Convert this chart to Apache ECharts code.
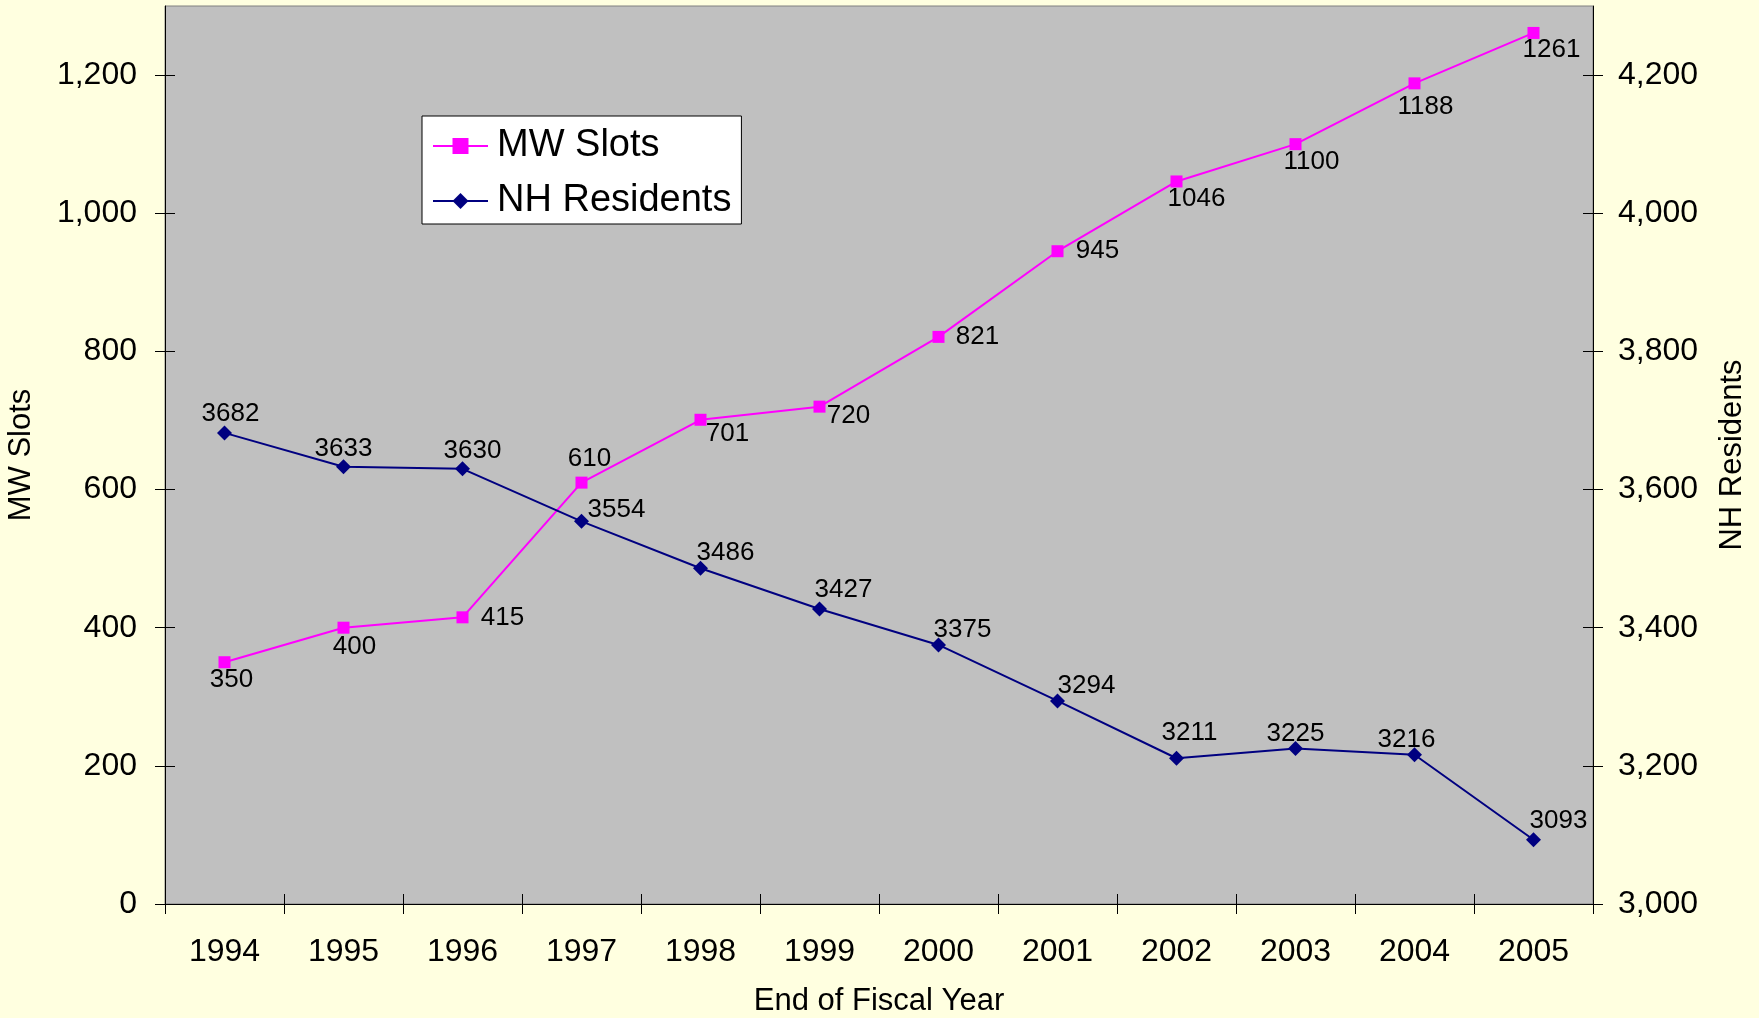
<!DOCTYPE html>
<html>
<head>
<meta charset="utf-8">
<title>MW Slots and NH Residents</title>
<script src="https://cdn.jsdelivr.net/npm/echarts@6/dist/echarts.min.js"></script>
<style>
  html, body { margin: 0; padding: 0; background: #FFFFE0; }
  #chart { width: 1759px; height: 1018px; }
</style>
</head>
<body>
<div id="chart"></div>
<script>
// Fiscal years (x axis categories)
const years = ['1994', '1995', '1996', '1997', '1998', '1999', '2000', '2001', '2002', '2003', '2004', '2005'];

// Medicaid waiver slots, left axis
const mwSlots = [350, 400, 415, 610, 701, 720, 821, 945, 1046, 1100, 1188, 1261];

// Nursing home residents, right axis
const nhResidents = [3682, 3633, 3630, 3554, 3486, 3427, 3375, 3294, 3211, 3225, 3216, 3093];

// Axis ranges and tick values
const leftMin = 0, leftMax = 1300;
const rightMin = 3000, rightMax = 4300;
const leftTicks = [0, 200, 400, 600, 800, 1000, 1200];
const rightTicks = [3000, 3200, 3400, 3600, 3800, 4000, 4200];

// Per-point label placement (pixel shift from the marker centre)
const mwLabelShift = [[7, 18], [11, 19], [40, 0], [8, -24], [27, 14], [29, 9], [39, 0], [40, 0], [20, 17], [16, 18], [11, 23], [18, 17]];
const nhLabelShift = [[6, -19], [0, -18], [10, -18], [35, -11], [25, -15], [24, -19], [24, -15], [29, -15], [13, -25], [0, -15], [-8, -15], [25, -19]];

const FONT = "'Liberation Sans', Arial, sans-serif";
const fmt = v => Number(v).toLocaleString('en-US');

function withLabels(values, shifts) {
  return values.map((v, i) => ({
    value: v,
    label: { offset: shifts[i] }
  }));
}

const chart = echarts.init(document.getElementById('chart'), null, { renderer: 'canvas' });

const tickStyle = { color: '#000', width: 1 };

function valueAxis(pos, min, max, extra) {
  return Object.assign({
    type: 'value',
    position: pos,
    min: min, max: max,
    splitLine: { show: false }
  }, extra);
}

chart.setOption({
  backgroundColor: '#FFFFE0',
  textStyle: { fontFamily: FONT, color: '#000' },
  animation: false,
  grid: {
    left: 165, right: 166, top: 6, bottom: 114,
    containLabel: false,
    outerBoundsMode: 'none',
    show: true,
    backgroundColor: '#C0C0C0',
    borderColor: '#808080',
    borderWidth: 1
  },
  legend: {
    orient: 'vertical',
    left: 422, top: 116,
    padding: [10, 10, 3, 10],
    backgroundColor: '#FFFFFF',
    borderColor: '#000',
    borderWidth: 1,
    itemWidth: 55,
    itemHeight: 20,
    itemGap: 15,
    textStyle: { fontFamily: FONT, fontSize: 38, color: '#000', lineHeight: 40, padding: [0, 0, 0, 4] },
    data: ['MW Slots', 'NH Residents']
  },
  xAxis: [
    {
      type: 'category',
      data: years,
      boundaryGap: true,
      name: 'End of Fiscal Year',
      nameLocation: 'middle',
      nameGap: 82,
      nameTextStyle: { fontFamily: FONT, fontSize: 31, color: '#000' },
      axisLine: { lineStyle: { color: '#000', width: 1 } },
      axisTick: { show: true, inside: false, length: 10, lineStyle: tickStyle },
      axisLabel: { fontFamily: FONT, fontSize: 32, color: '#000', margin: 32 },
      splitLine: { show: false }
    },
    {
      type: 'category',
      data: years,
      position: 'bottom',
      boundaryGap: true,
      axisLine: { show: false },
      axisTick: { show: true, inside: true, length: 10, lineStyle: tickStyle },
      axisLabel: { show: false },
      splitLine: { show: false }
    }
  ],
  yAxis: [
    valueAxis('left', leftMin, leftMax, {
      name: 'MW Slots',
      nameLocation: 'middle',
      nameGap: 128,
      nameRotate: 90,
      nameTextStyle: { fontFamily: FONT, fontSize: 31, color: '#000' },
      axisLine: { show: true, lineStyle: { color: '#000', width: 1 } },
      axisTick: { show: true, inside: false, length: 10, lineStyle: tickStyle, customValues: leftTicks },
      axisLabel: { fontFamily: FONT, fontSize: 32, color: '#000', margin: 28, customValues: leftTicks, formatter: fmt }
    }),
    valueAxis('right', rightMin, rightMax, {
      name: 'NH Residents',
      nameLocation: 'middle',
      nameGap: 124,
      nameRotate: 90,
      nameTextStyle: { fontFamily: FONT, fontSize: 31, color: '#000' },
      axisLine: { show: true, lineStyle: { color: '#000', width: 1 } },
      axisTick: { show: true, inside: false, length: 10, lineStyle: tickStyle, customValues: rightTicks },
      axisLabel: { fontFamily: FONT, fontSize: 32, color: '#000', margin: 25, customValues: rightTicks, formatter: fmt }
    }),
    valueAxis('left', leftMin, leftMax, {
      axisLine: { show: false },
      axisTick: { show: true, inside: true, length: 10, lineStyle: tickStyle, customValues: leftTicks },
      axisLabel: { show: false, customValues: leftTicks }
    }),
    valueAxis('right', rightMin, rightMax, {
      axisLine: { show: false },
      axisTick: { show: true, inside: true, length: 10, lineStyle: tickStyle, customValues: rightTicks },
      axisLabel: { show: false, customValues: rightTicks }
    })
  ],
  series: [
    {
      name: 'MW Slots',
      type: 'line',
      xAxisIndex: 0,
      yAxisIndex: 0,
      data: withLabels(mwSlots, mwLabelShift),
      symbol: 'rect',
      symbolSize: 12,
      showAllSymbol: true,
      lineStyle: { color: '#FF00FF', width: 2 },
      itemStyle: { color: '#FF00FF' },
      label: { show: true, position: 'inside', fontFamily: FONT, fontSize: 26, color: '#000' },
      z: 3
    },
    {
      name: 'NH Residents',
      type: 'line',
      xAxisIndex: 0,
      yAxisIndex: 1,
      data: withLabels(nhResidents, nhLabelShift),
      symbol: 'diamond',
      symbolSize: 15,
      showAllSymbol: true,
      lineStyle: { color: '#000080', width: 2 },
      itemStyle: { color: '#000080' },
      label: { show: true, position: 'inside', fontFamily: FONT, fontSize: 26, color: '#000' },
      z: 3
    }
  ]
});
</script>
</body>
</html>
